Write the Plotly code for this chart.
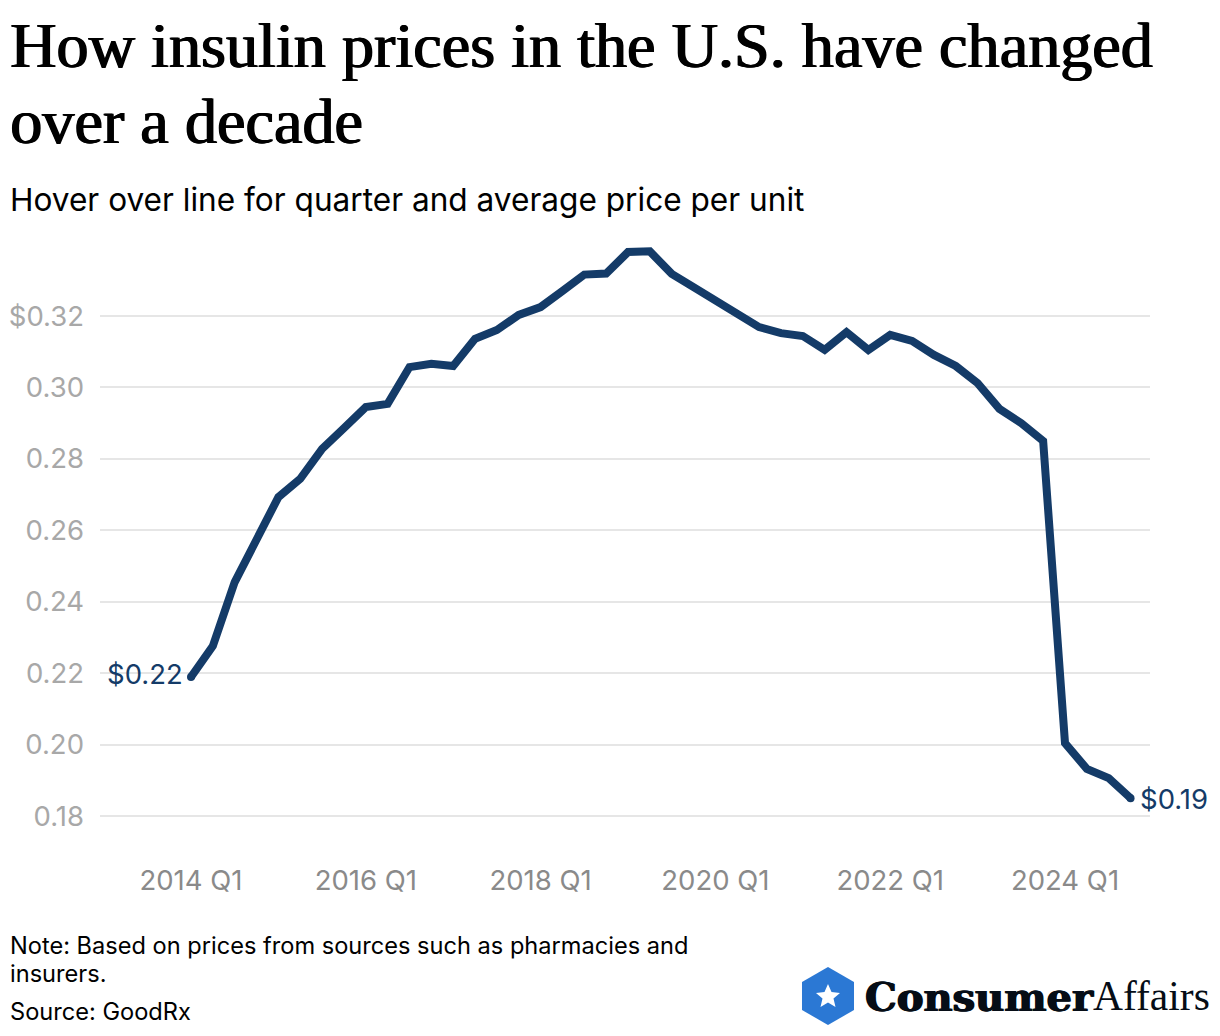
import plotly.graph_objects as go

W, H = 1204, 1020
OFF = 8
L, R, T, B = 92, 62, 232, 188  # plot area px inside figure

years = list(range(2014, 2025))
quarters = [f"{y} Q{q}" for y in years for q in (1, 2, 3, 4)]
prices = [0.2189, 0.2276, 0.2455, 0.2573, 0.2693, 0.2744, 0.2828, 0.2886, 0.2945, 0.2954, 0.3057,
          0.3066, 0.3060, 0.3136, 0.3161, 0.3203, 0.3225, 0.3270, 0.3316, 0.3319, 0.3379, 0.3381,
          0.3318, 0.3281, 0.3245, 0.3203, 0.3169, 0.3152, 0.3144, 0.3105, 0.3155, 0.3105, 0.3147,
          0.3130, 0.3091, 0.3060, 0.3012, 0.2940, 0.2900, 0.2850, 0.2004, 0.1932, 0.1906, 0.1850]
xticks = ["2014 Q1", "2016 Q1", "2018 Q1", "2020 Q1", "2022 Q1", "2024 Q1"]
yticks = [0.18, 0.20, 0.22, 0.24, 0.26, 0.28, 0.30, 0.32]
yticklabels = ["0.18", "0.20", "0.22", "0.24", "0.26", "0.28", "0.30", "$0.32"]

NAVY = "#143b68"
SANS = "Inter, Roboto, sans-serif"
SERIF = "Liberation Serif, serif"


def px(x):
    return (x - OFF - L) / (W - L - R)


def py(y):
    return 1 - (y - OFF - T) / (H - T - B)


def label(text, x, y, size, color="#000000", family=SANS, **kw):
    return dict(text=text, x=px(x), y=py(y), xref="paper", yref="paper", xanchor="left",
                yanchor="middle", showarrow=False, align="left",
                font=dict(size=size, color=color, family=family, **kw))


fig = go.Figure()
fig.add_trace(go.Scatter(x=quarters, y=prices, mode="lines", line=dict(color=NAVY, width=8),
                         hovertemplate="%{x}: $%{y:.2f}<extra></extra>", showlegend=False))
fig.add_trace(go.Scatter(x=[quarters[0], quarters[-1]], y=[prices[0], prices[-1]], mode="markers",
                         marker=dict(color=NAVY, size=8), hoverinfo="skip", showlegend=False))

TITLE_SHADOW = "1px 0 0 #000, -0.5px 0 0 #000"
LOGO_SHADOW = "0.8px 0 0 #060d16, -0.8px 0 0 #060d16"
annotations = [
    label("How insulin prices in the U.S. have changed", 8, 45, 64.2, family=SERIF, shadow=TITLE_SHADOW),
    label("over a decade", 8, 122, 64.2, family=SERIF, shadow=TITLE_SHADOW),
    label("Hover over line for quarter and average price per unit", 8, 199, 31.6),
    label("Note: Based on prices from sources such as pharmacies and", 8, 945, 23.6),
    label("insurers.", 8, 973, 23.6),
    label("Source: GoodRx", 8, 1011, 23.6),
    label("Consumer", 863, 996, 40, color="#060d16", family="DejaVu Serif", weight=700, shadow=LOGO_SHADOW),
    label("Affairs", 1091, 996, 41.5, color="#060d16", family=SERIF),
    dict(text="$0.22", x=quarters[0], y=prices[0], xanchor="right", yanchor="middle", xshift=-6, yshift=3,
         showarrow=False, font=dict(size=27.5, color=NAVY, family=SANS)),
    dict(text="$0.19", x=quarters[-1], y=prices[-1], xanchor="left", yanchor="middle", xshift=7, yshift=-1,
         showarrow=False, font=dict(size=27.5, color=NAVY, family=SANS)),
]

# logo: hexagon and star, in page pixels
hex_pts = [(828, 967), (854, 982), (854, 1010), (828, 1025), (802, 1010), (802, 982)]
star_pts = [(828, 984), (831.5, 992), (840, 993), (833.5, 998.5), (835.5, 1007), (828, 1002.5),
            (820.5, 1007), (822.5, 998.5), (816, 993), (824.5, 992)]


def path(points):
    return "M" + " L".join(f"{px(x):.5f},{py(y):.5f}" for x, y in points) + " Z"


shapes = [
    dict(type="path", xref="paper", yref="paper", path=path(hex_pts), fillcolor="#2b78d4",
         line=dict(width=0)),
    dict(type="path", xref="paper", yref="paper", path=path(star_pts), fillcolor="#ffffff",
         line=dict(width=0)),
]

fig.update_layout(
    width=W, height=H, margin=dict(l=L, r=R, t=T, b=B, pad=0, autoexpand=False),
    paper_bgcolor="#ffffff", plot_bgcolor="#ffffff",
    font=dict(family=SANS),
    annotations=annotations, shapes=shapes,
    xaxis=dict(type="category", categoryorder="array", categoryarray=quarters, automargin=False,
               range=[-4.165, 43.89], tickmode="array", tickvals=xticks, ticktext=xticks,
               showgrid=False, zeroline=False, showline=False, ticks="", ticklabelstandoff=21,
               tickangle=0, tickfont=dict(size=27.5, color="#8a8a8a", family=SANS)),
    yaxis=dict(range=[0.17328, 0.34128], tickmode="array", tickvals=yticks, ticktext=yticklabels,
               automargin=False, showgrid=True, gridcolor="#e6e6e6", gridwidth=1.6, zeroline=False,
               showline=False, ticks="", ticklabelstandoff=15,
               tickfont=dict(size=27.5, color="#a8a8a8", family=SANS)),
)

fig.write_html("out.html")
